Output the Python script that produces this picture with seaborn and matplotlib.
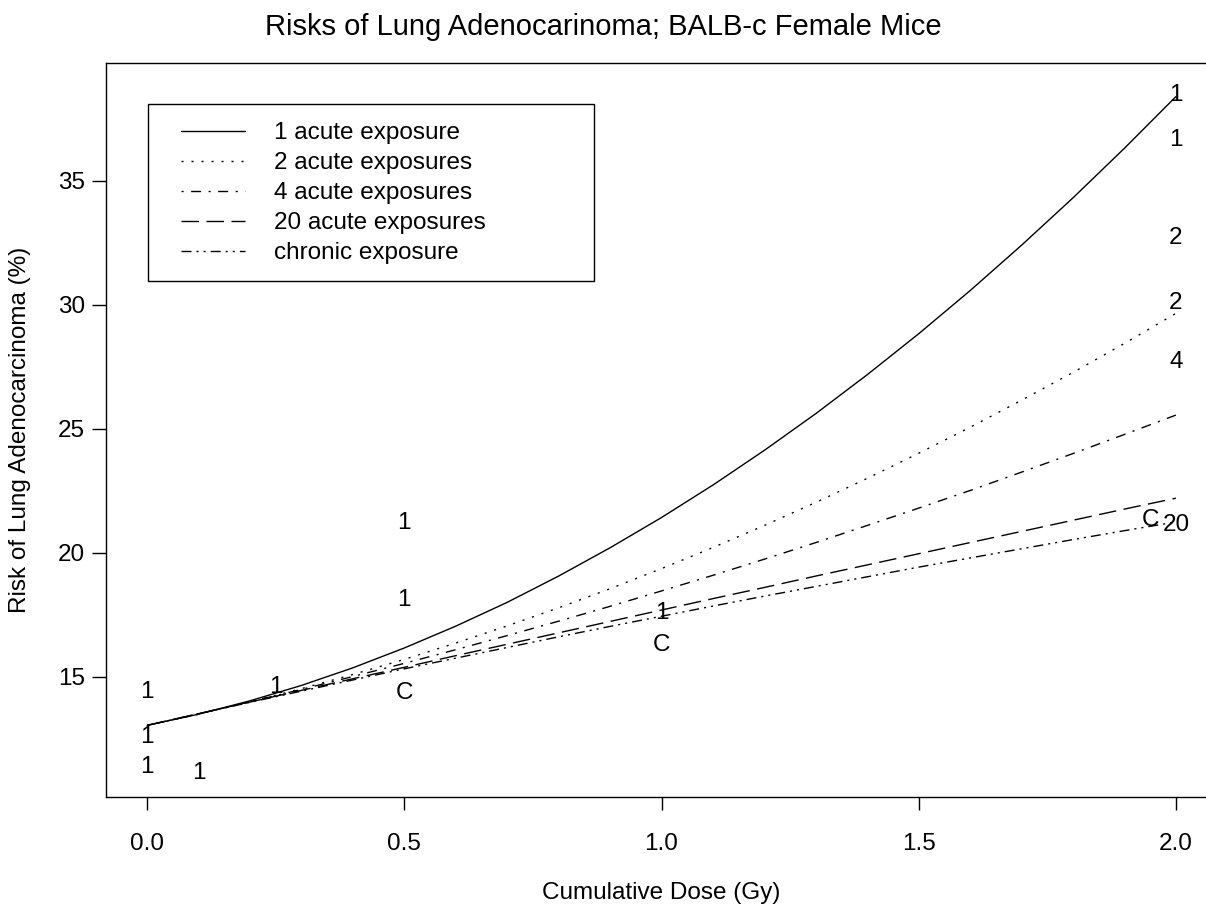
import numpy as np
import pandas as pd
import matplotlib
matplotlib.use("Agg")
import matplotlib.pyplot as plt
from matplotlib.patches import Rectangle
import seaborn as sns

# cumulative dose grid (Gy)
dose = [0.0, 0.1, 0.2, 0.3, 0.4, 0.5, 0.6, 0.7, 0.8, 0.9, 1.0,
        1.1, 1.2, 1.3, 1.4, 1.5, 1.6, 1.7, 1.8, 1.9, 2.0]

# fitted risk curves (%)
risk_1_acute = [13.05, 13.50, 14.04, 14.66, 15.37, 16.17, 17.05, 18.01, 19.07, 20.21, 21.43,
                22.74, 24.14, 25.62, 27.19, 28.84, 30.58, 32.41, 34.32, 36.32, 38.40]
risk_2_acute = [13.05, 13.50, 14.00, 14.53, 15.10, 15.71, 16.37, 17.06, 17.79, 18.56, 19.37,
                20.22, 21.11, 22.04, 23.01, 24.02, 25.07, 26.16, 27.28, 28.45, 29.66]
risk_4_acute = [13.05, 13.52, 14.00, 14.50, 15.02, 15.55, 16.10, 16.67, 17.25, 17.85, 18.47,
                19.10, 19.75, 20.42, 21.11, 21.81, 22.52, 23.26, 24.01, 24.78, 25.56]
risk_20_acute = [13.05, 13.52, 13.99, 14.46, 14.93, 15.39, 15.86, 16.32, 16.78, 17.24, 17.70,
                 18.16, 18.61, 19.07, 19.52, 19.97, 20.42, 20.87, 21.32, 21.77, 22.21]
risk_chronic = [13.05, 13.52, 13.98, 14.43, 14.88, 15.33, 15.76, 16.19, 16.62, 17.04, 17.45,
                17.86, 18.26, 18.65, 19.04, 19.43, 19.80, 20.17, 20.54, 20.90, 21.25]

series_names = ["1 acute exposure", "2 acute exposures", "4 acute exposures",
                "20 acute exposures", "chronic exposure"]

# observed points, plotted as text symbols
obs_label = ["1", "1", "1", "1", "1", "1", "1", "1", "1", "1",
             "2", "2", "4", "20", "C", "C", "C"]
obs_dose = [0.0, 0.0, 0.0, 0.1, 0.25, 0.5, 0.5, 1.0, 2.0, 2.0,
            2.0, 2.0, 2.0, 2.0, 0.5, 1.0, 1.95]
obs_risk = [14.40, 12.59, 11.38, 11.13, 14.61, 21.20, 18.10, 17.57, 38.47, 36.65,
            32.72, 30.07, 27.71, 21.13, 14.34, 16.29, 21.33]

x_ticks = [0.0, 0.5, 1.0, 1.5, 2.0]
y_ticks = [15, 20, 25, 30, 35]

sns.set_style("ticks")
plt.rcParams["font.family"] = ["Liberation Sans", "DejaVu Sans"]
plt.rcParams["font.size"] = 17.5
for key in ["text.color", "axes.labelcolor", "xtick.color", "ytick.color", "axes.edgecolor"]:
    plt.rcParams[key] = "black"

# R style line types (on/off in points)
line_styles = [
    "-",
    (0, (1.5, 5.7)),
    (0, (1.5, 5.4, 7.2, 5.4)),
    (0, (12.6, 5.4)),
    (0, (7.2, 3.6, 1.5, 3.6, 1.5, 3.6)),
]

df = pd.DataFrame({
    "dose": dose * 5,
    "risk": risk_1_acute + risk_2_acute + risk_4_acute + risk_20_acute + risk_chronic,
    "series": np.repeat(series_names, len(dose)),
})

fig = plt.figure(figsize=(12.06, 9.05), dpi=100)
ax = fig.add_axes([0.0879, 0.11934, 0.92123, 0.81105])

for name, ls in zip(series_names, line_styles):
    sub = df[df["series"] == name]
    sns.lineplot(data=sub, x="dose", y="risk", ax=ax, color="black",
                 linewidth=1.0, linestyle=ls, label=name, legend=False)

for lab, xx, yy in zip(obs_label, obs_dose, obs_risk):
    ax.text(xx, yy, lab, ha="center", va="center", fontsize=17.5, color="black")

ax.set_xlim(-0.08, 2.08)
ax.set_ylim(10.161, 39.758)
ax.set_xticks(x_ticks)
ax.set_xticklabels([f"{v:.1f}" for v in x_ticks])
ax.set_yticks(y_ticks)
ax.set_yticklabels([str(v) for v in y_ticks])
ax.tick_params(axis="x", length=9.5, width=1.0, pad=16.5, labelsize=17.5, colors="black")
ax.tick_params(axis="y", length=10, width=1.0, pad=5, labelsize=17.5, colors="black")
for sp in ax.spines.values():
    sp.set_linewidth(1.0)
    sp.set_color("black")
ax.set_xlabel("")
ax.set_ylabel("")

# legend box drawn by hand, entries by matplotlib
ax.add_patch(Rectangle((0.0378, 0.703), 0.4014, 0.2411, transform=ax.transAxes,
                       fill=False, edgecolor="black", linewidth=1.0, zorder=5))
ax.legend(loc="upper left", bbox_to_anchor=(0.0567, 0.936), frameon=False,
          borderpad=0, handlelength=2.63, handletextpad=1.19, labelspacing=0.33,
          fontsize=17.5)

fig.text(0.5, 1 - 27 / 905, "Risks of Lung Adenocarinoma; BALB-c Female Mice",
         ha="center", va="center", fontsize=21)
fig.text(661 / 1206, 1 - 893 / 905, "Cumulative Dose (Gy)",
         ha="center", va="center", fontsize=17.5)
fig.text(20 / 1206, 1 - 430 / 905, "Risk of Lung Adenocarcinoma (%)",
         ha="center", va="center", rotation=90, fontsize=17.5)

fig.savefig("out.png", dpi=100)
